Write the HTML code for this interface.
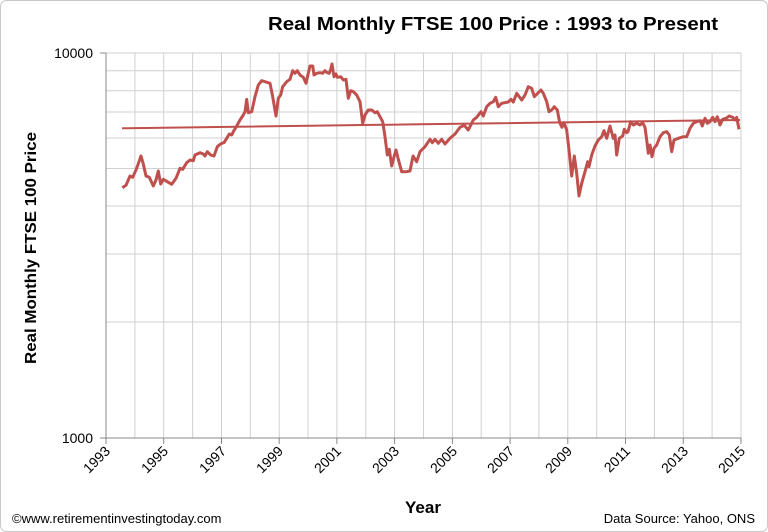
<!DOCTYPE html>
<html><head><style>
body{margin:0;background:#fff}
svg{display:block;font-family:"Liberation Sans",sans-serif}
</style></head><body>
<svg width="768" height="532" viewBox="0 0 768 532" xmlns="http://www.w3.org/2000/svg">
<rect x="0.5" y="0.5" width="767" height="531" rx="6" fill="#fff" stroke="#c8c8c8"/>
<text x="493" y="30" font-size="18" font-weight="bold" text-anchor="middle" fill="#000" textLength="450" lengthAdjust="spacingAndGlyphs">Real Monthly  FTSE 100 Price : 1993 to Present</text>
<g stroke="#d0d0d0" stroke-width="1">
<line x1="106" y1="70.7" x2="741" y2="70.7"/><line x1="106" y1="90.7" x2="741" y2="90.7"/>
<line x1="106" y1="112" x2="741" y2="112"/><line x1="106" y1="138" x2="741" y2="138"/>
<line x1="106" y1="168.5" x2="741" y2="168.5"/><line x1="106" y1="206" x2="741" y2="206"/>
<line x1="106" y1="254" x2="741" y2="254"/><line x1="106" y1="322" x2="741" y2="322"/>
<line x1="106" y1="53" x2="741" y2="53"/>
<line x1="134.9" y1="53" x2="134.9" y2="438"/><line x1="163.7" y1="53" x2="163.7" y2="438"/><line x1="192.6" y1="53" x2="192.6" y2="438"/><line x1="221.5" y1="53" x2="221.5" y2="438"/><line x1="250.3" y1="53" x2="250.3" y2="438"/><line x1="279.2" y1="53" x2="279.2" y2="438"/><line x1="308" y1="53" x2="308" y2="438"/><line x1="336.9" y1="53" x2="336.9" y2="438"/><line x1="365.8" y1="53" x2="365.8" y2="438"/><line x1="394.6" y1="53" x2="394.6" y2="438"/><line x1="423.5" y1="53" x2="423.5" y2="438"/><line x1="452.4" y1="53" x2="452.4" y2="438"/><line x1="481.2" y1="53" x2="481.2" y2="438"/><line x1="510.1" y1="53" x2="510.1" y2="438"/><line x1="538.9" y1="53" x2="538.9" y2="438"/><line x1="567.8" y1="53" x2="567.8" y2="438"/><line x1="596.7" y1="53" x2="596.7" y2="438"/><line x1="625.5" y1="53" x2="625.5" y2="438"/><line x1="654.4" y1="53" x2="654.4" y2="438"/><line x1="683.3" y1="53" x2="683.3" y2="438"/><line x1="712.1" y1="53" x2="712.1" y2="438"/><line x1="741" y1="53" x2="741" y2="438"/>
</g>
<g stroke="#888" stroke-width="1">
<line x1="106" y1="53" x2="106" y2="438"/><line x1="100" y1="438" x2="741" y2="438"/><line x1="100" y1="53" x2="106" y2="53"/>
<line x1="106" y1="438" x2="106" y2="444"/><line x1="163.7" y1="438" x2="163.7" y2="444"/><line x1="221.5" y1="438" x2="221.5" y2="444"/><line x1="279.2" y1="438" x2="279.2" y2="444"/><line x1="336.9" y1="438" x2="336.9" y2="444"/><line x1="394.6" y1="438" x2="394.6" y2="444"/><line x1="452.4" y1="438" x2="452.4" y2="444"/><line x1="510.1" y1="438" x2="510.1" y2="444"/><line x1="567.8" y1="438" x2="567.8" y2="444"/><line x1="625.5" y1="438" x2="625.5" y2="444"/><line x1="683.3" y1="438" x2="683.3" y2="444"/><line x1="741" y1="438" x2="741" y2="444"/>
</g>
<text x="93" y="58" font-size="14" text-anchor="end">10000</text>
<text x="93" y="443" font-size="14" text-anchor="end">1000</text>
<g font-size="14" text-anchor="end">
<text transform="translate(111,452) rotate(-45)">1993</text>
<text transform="translate(169,452) rotate(-45)">1995</text>
<text transform="translate(227,452) rotate(-45)">1997</text>
<text transform="translate(284,452) rotate(-45)">1999</text>
<text transform="translate(342,452) rotate(-45)">2001</text>
<text transform="translate(400,452) rotate(-45)">2003</text>
<text transform="translate(458,452) rotate(-45)">2005</text>
<text transform="translate(515,452) rotate(-45)">2007</text>
<text transform="translate(573,452) rotate(-45)">2009</text>
<text transform="translate(631,452) rotate(-45)">2011</text>
<text transform="translate(689,452) rotate(-45)">2013</text>
<text transform="translate(746,452) rotate(-45)">2015</text>
</g>
<text transform="translate(36,248) rotate(-90)" font-size="16" font-weight="bold" text-anchor="middle" textLength="232" lengthAdjust="spacingAndGlyphs">Real Monthly FTSE 100 Price</text>
<text x="423" y="513" font-size="17" font-weight="bold" text-anchor="middle">Year</text>
<text x="12" y="523" font-size="13">©www.retirementinvestingtoday.com</text>
<text x="755" y="523" font-size="13" text-anchor="end">Data Source: Yahoo, ONS</text>
<polyline fill="none" stroke="#c0504d" stroke-width="2" points="122,128.3 420,124.3 740,120"/>
<polyline fill="none" stroke="#c0504d" stroke-width="3" stroke-linejoin="round" points="122.3,187.7 126,185.3 130,176 132.7,177.3 136.7,168.3 141,156 143.3,164 146,176 149.3,177.3 153.3,186 156,180 158.3,171 160.7,184 163.3,179.3 167.3,181.7 171.7,184.3 176,178.3 180,168.3 182.7,169.3 186.7,162.7 190,160 193.3,160.7 195,155 200,152.7 203.3,154 205,156 207.3,151.7 210.7,155 214,156 217.3,146.7 219.3,145 221.7,143.3 224,142.7 226.7,138.3 229.3,134 231.7,135 233.3,131.7 236.7,126 240,120 243.3,115 245,111.7 246.7,99.3 248.3,112.7 251.7,111.7 255,96.7 258.3,85 261.7,80.7 265,81.7 270,83.3 272.7,96.7 276,116 278.3,98.3 280.7,95 282.7,86.7 286.7,81.7 290,79.3 292.7,70.7 295,73.3 297.3,70.7 300,75 303.3,77.3 306,83.3 308.3,73.3 310,66 312.7,66 314,75 316.7,73.3 320,72.7 322.7,73.3 325,70.7 327.3,72.7 329.3,73.3 330.7,69.3 332,64 334,76.7 336,74 337.3,77.3 340.7,76.7 343.3,80 346,79.3 348.3,98.3 350.7,90.7 353.3,91.7 356.7,95 360,101.7 362.7,123.3 365,115 368.3,110 371.7,110 375,112.7 377.3,111.7 380,116.7 382.7,121.7 385,136.7 387.3,155 389.3,149.3 391.7,166 394,156.7 396,150 398.3,159.3 401.7,171.7 406,171.7 410,171 413,156 416.7,161.7 420,151.7 425,146.7 430,139.3 432.3,142.7 435,139.3 438.3,143.3 441.7,139.3 445,144 450,138.3 455,134 460,127.3 464.3,125.3 468.3,130 473.3,120 476.7,117.3 481,111.7 483.3,116 486.7,106.7 490,103.3 493.3,101.7 495.7,97.3 498.3,106.7 501.7,103.3 508.3,102 511,99.3 513.3,102 516.7,93.3 521.7,100 525,95 528.3,86.7 531.7,88.3 534.3,96.7 538.3,92.7 541,90 543.3,93.3 546.7,101.7 549,111.7 551.7,110 554.3,106.7 557.3,110 559.7,122.7 562,127.3 564,122.7 566.7,130 569,150 571.7,176 574.3,156 576.7,173.3 579,196 581.7,183.3 585,171.7 587.7,161.7 589,166.7 591.7,155 595,146 598.3,140 601.7,136.7 604,130.7 606.7,138.3 610,126 613.3,138.3 615,135 616.7,155 619.3,138.3 622.7,136 624.3,129.3 626.7,132.7 628,131.7 630.7,121.7 633.3,125 636.7,123.3 640,125 642.7,122.7 645,127.3 646.7,140 648.3,153.3 650,145 652,156.7 654,148.3 656.7,145 660,136.7 663.3,132.7 666.7,131.7 669.3,135 671.7,151.7 674,140 678.3,138.3 683.3,136.7 686.7,136.7 690,128.3 693.3,123.3 696.7,121.7 700,120.7 702.3,126 705,118.3 707.3,123.3 710,121.7 712.7,117.3 715,121.7 717.3,116.7 720,125 722.7,119.3 726,118.3 729.3,116 732.7,117.3 735,120 736.7,117.3 739,129.3"/>
</svg>
</body></html>
